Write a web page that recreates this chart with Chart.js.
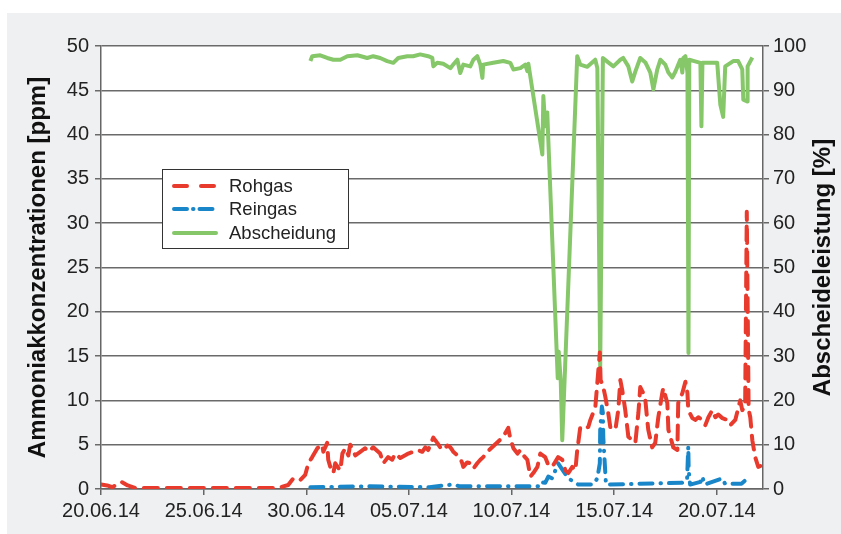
<!DOCTYPE html>
<html>
<head>
<meta charset="utf-8">
<script src="https://cdn.jsdelivr.net/npm/chart.js@4"></script>
<style>
  html, body { margin: 0; padding: 0; background: #fff; }
  canvas { display: block; }
</style>
</head>
<body>
<canvas id="chart" width="841" height="534"></canvas>
<script>
// days after 20.06.14
const tickLabels = ['20.06.14', '25.06.14', '30.06.14', '05.07.14', '10.07.14', '15.07.14', '20.07.14'];

// [day, ppm]
const rohgas = [
  [0, 0.5], [0.3, 0.4], [0.55, 0.2], [1.0, 0.8], [1.3, 0.4], [1.7, 0.1], [8.6, 0.1],
  [9.12, 0.45], [9.37, 1.2], [9.7, 1.0], [9.95, 1.6], [10.1, 2.9], [10.29, 3.6], [10.54, 4.6],
  [10.78, 5.0], [10.83, 4.2], [11.02, 5.2], [11.07, 3.3], [11.17, 2.5], [11.32, 1.8], [11.41, 2.9],
  [11.56, 2.4], [11.66, 2.1], [11.76, 4.0], [11.9, 4.6], [12.05, 3.8], [12.14, 5.0], [12.39, 3.8],
  [12.63, 4.2], [12.87, 4.6], [13.02, 4.2], [13.26, 4.7], [13.6, 4.0], [13.75, 2.9], [13.99, 3.6],
  [14.19, 3.3], [14.33, 4.0], [14.58, 3.5], [14.82, 3.8], [14.97, 4.0], [15.21, 4.2], [15.41, 4.4],
  [15.65, 4.2], [15.8, 4.7], [15.94, 4.4], [16.19, 5.8], [16.38, 5.2], [16.53, 4.7], [16.67, 4.4],
  [16.87, 4.9], [17.02, 4.7], [17.11, 4.4], [17.16, 4.2], [17.36, 3.8], [17.5, 3.5], [17.6, 2.9],
  [17.65, 2.5], [17.84, 3.0], [17.99, 2.9], [18.14, 2.3], [18.33, 2.9], [18.48, 3.3], [18.62, 3.6],
  [18.82, 4.2], [19.6, 5.9], [19.84, 6.9], [19.94, 5.7], [20.09, 4.6], [20.29, 4.0], [20.43, 4.4],
  [20.58, 3.8], [20.77, 3.3], [20.92, 1.4], [21.06, 1.8], [21.26, 2.5], [21.4, 4.0], [21.64, 3.6],
  [21.79, 2.7], [21.98, 2.5], [22.27, 3.6], [22.47, 3.3], [22.62, 2.1], [22.77, 1.8], [22.96, 2.5],
  [23.11, 2.1], [23.2, 4.4], [23.25, 5.2], [23.35, 7.0], [23.59, 6.9], [23.74, 7.0], [23.84, 7.8],
  [24.08, 9.2], [24.3, 15.4], [24.34, 12.3], [24.47, 11.5], [24.57, 10.4], [24.71, 8.6], [24.81, 7.0],
  [25.06, 6.7], [25.2, 8.9], [25.3, 12.3], [25.39, 11.2], [25.54, 8.9], [25.69, 5.9], [25.88, 5.5],
  [26.03, 5.2], [26.18, 8.6], [26.27, 11.5], [26.42, 10.8], [26.52, 10.0], [26.61, 7.8], [26.66, 6.7],
  [26.85, 4.7], [27.0, 5.2], [27.15, 8.1], [27.34, 10.8], [27.39, 11.4], [27.59, 9.7], [27.64, 6.7],
  [27.88, 4.7], [28.08, 4.4], [28.12, 9.7], [28.32, 10.8], [28.47, 12.1], [28.57, 10.8], [28.61, 8.9],
  [28.81, 8.0], [28.95, 7.8], [29.1, 8.1], [29.3, 7.8], [29.44, 7.2], [29.59, 8.1], [29.78, 8.9],
  [29.93, 8.1], [30.07, 8.4], [30.27, 8.0], [30.51, 7.8], [30.66, 7.2], [30.9, 7.8], [31.14, 10.0],
  [31.24, 8.9], [31.38, 9.3], [31.46, 31.3], [31.55, 9.0], [31.63, 8.1], [31.73, 5.5], [31.87, 3.6],
  [32.02, 2.5], [32.12, 2.6]
];

// [day, ppm]
const reingas = [
  [10.2, 0.2], [13.0, 0.3], [16.0, 0.2], [17.11, 0.5], [17.5, 0.3], [21.3, 0.3], [21.4, 0.8],
  [21.64, 0.7], [21.79, 1.4], [21.98, 1.2], [22.27, 2.9], [22.5, 2.1], [22.77, 1.2], [23.25, 0.5],
  [23.98, 0.5], [24.18, 1.2], [24.3, 2.9], [24.32, 6.7], [24.4, 9.3], [24.45, 8.6], [24.47, 5.8],
  [24.6, 0.5], [28.3, 0.7], [28.55, 1.0], [28.61, 4.8], [28.63, 2.1], [28.7, 0.5], [29.2, 0.8],
  [29.3, 1.4], [29.4, 0.5], [30.27, 1.2], [30.4, 0.6], [31.2, 0.6], [31.5, 1.2]
];

// [day, %]
const abscheidung = [
  [10.2, 96.6], [10.29, 97.7], [10.68, 97.9], [11.02, 97.3], [11.32, 96.9], [11.66, 96.9], [12.0, 97.7],
  [12.49, 97.9], [12.97, 97.3], [13.26, 97.7], [13.6, 97.3], [13.94, 96.6], [14.24, 96.2], [14.48, 97.3],
  [14.92, 97.7], [15.21, 97.7], [15.55, 98.1], [15.94, 97.7], [16.14, 97.3], [16.19, 95.4], [16.38, 96.2],
  [16.67, 96.0], [17.02, 95.0], [17.16, 95.8], [17.36, 96.9], [17.5, 93.9], [17.65, 95.8], [17.99, 95.4],
  [18.14, 96.9], [18.33, 97.7], [18.48, 95.8], [18.58, 92.8], [18.62, 95.8], [19.11, 96.2], [19.6, 96.6],
  [19.94, 96.2], [20.09, 94.7], [20.43, 95.0], [20.67, 95.8], [20.77, 94.3], [20.82, 96.0], [21.5, 75.5],
  [21.55, 88.7], [21.64, 81.9], [21.74, 85.0], [21.79, 79.0], [22.25, 25.0], [22.3, 31.0], [22.4, 24.0],
  [22.47, 11.0], [23.2, 97.7], [23.35, 95.8], [23.69, 95.3], [24.08, 96.9], [24.18, 95.0], [24.32, 27.5],
  [24.45, 97.3], [24.71, 96.3], [24.96, 95.4], [25.3, 96.9], [25.44, 97.3], [25.69, 95.4], [25.88, 92.0],
  [26.03, 94.2], [26.27, 97.3], [26.52, 96.3], [26.76, 94.0], [26.91, 90.2], [27.1, 94.7], [27.25, 96.9],
  [27.49, 95.8], [27.64, 94.0], [27.83, 92.9], [27.98, 94.2], [28.22, 96.9], [28.32, 94.0], [28.37, 97.3],
  [28.47, 97.7], [28.57, 94.0], [28.62, 30.7], [28.66, 96.9], [28.9, 96.6], [29.2, 96.2], [29.25, 81.9],
  [29.3, 96.2], [29.68, 96.2], [30.02, 96.2], [30.17, 86.8], [30.31, 84.0], [30.41, 95.4], [30.8, 96.6],
  [31.04, 96.6], [31.24, 94.7], [31.29, 87.9], [31.48, 87.5], [31.5, 95.4], [31.73, 97.4]
];

const RED = 'rgb(232,58,45)';
const BLUE = 'rgb(24,134,200)';
const GREEN = 'rgb(134,199,106)';
const FONT = 'Liberation Sans, Arial, Helvetica, sans-serif';

const toPts = arr => arr.map(p => ({ x: p[0], y: p[1] }));

const panel = {
  id: 'panel',
  beforeDraw(chart) {
    const { ctx, chartArea: a } = chart;
    ctx.save();
    ctx.fillStyle = '#eff0f2';
    ctx.fillRect(7, 13, 834, 521);
    ctx.fillStyle = '#fff';
    ctx.fillRect(a.left, a.top, a.right - a.left, a.bottom - a.top);
    ctx.restore();
  },
  afterDraw(chart) {
    const ctx = chart.ctx;
    ctx.save();
    // axis titles, both reading bottom to top
    ctx.fillStyle = '#111';
    ctx.font = 'bold 24px ' + FONT;
    ctx.textAlign = 'center';
    ctx.textBaseline = 'alphabetic';
    const cy = (chart.chartArea.top + chart.chartArea.bottom) / 2;
    [[45, 'Ammoniakkonzentrationen [ppm]'], [830, 'Abscheideleistung [%]']].forEach(([x, t]) => {
      ctx.save();
      ctx.translate(x, cy);
      ctx.rotate(-Math.PI / 2);
      ctx.fillText(t, 0, 0);
      ctx.restore();
    });

    // legend box
    ctx.fillStyle = '#fff';
    ctx.fillRect(162.5, 169.5, 186, 79);
    ctx.strokeStyle = '#333';
    ctx.lineWidth = 1;
    ctx.strokeRect(162.5, 169.5, 186, 79);
    const rows = [
      { label: 'Rohgas', color: RED, dash: [13, 14], y: 186 },
      { label: 'Reingas', color: BLUE, dash: [13, 6, 0.5, 6], y: 209 },
      { label: 'Abscheidung', color: GREEN, dash: [], y: 233 }
    ];
    rows.forEach(r => {
      ctx.beginPath();
      ctx.setLineDash(r.dash);
      ctx.lineCap = 'round';
      ctx.lineWidth = 4;
      ctx.strokeStyle = r.color;
      ctx.moveTo(174, r.y);
      ctx.lineTo(216, r.y);
      ctx.stroke();
      ctx.setLineDash([]);
      ctx.fillStyle = '#222';
      ctx.font = '18.5px ' + FONT;
      ctx.textAlign = 'left';
      ctx.textBaseline = 'middle';
      ctx.fillText(r.label, 229, r.y + 1);
    });
    ctx.restore();
  }
};

new Chart(document.getElementById('chart'), {
  type: 'line',
  data: {
    datasets: [
      {
        label: 'Rohgas',
        data: toPts(rohgas),
        yAxisID: 'y',
        borderColor: RED,
        borderWidth: 4,
        borderDash: [14, 9],
        borderCapStyle: 'round',
        borderJoinStyle: 'round',
        pointRadius: 0,
        tension: 0
      },
      {
        label: 'Reingas',
        data: toPts(reingas),
        yAxisID: 'y',
        borderColor: BLUE,
        borderWidth: 4,
        borderDash: [13, 8, 0.5, 8],
        borderCapStyle: 'round',
        borderJoinStyle: 'round',
        pointRadius: 0,
        tension: 0
      },
      {
        label: 'Abscheidung',
        data: toPts(abscheidung),
        yAxisID: 'y1',
        borderColor: GREEN,
        borderWidth: 4,
        borderJoinStyle: 'round',
        pointRadius: 0,
        tension: 0
      }
    ]
  },
  options: {
    responsive: false,
    animation: false,
    devicePixelRatio: 1,
    layout: { padding: { top: 46, left: 0, right: 0, bottom: 0 } },
    plugins: {
      legend: { display: false },
      tooltip: { enabled: false }
    },
    scales: {
      x: {
        type: 'linear',
        min: 0,
        max: 32.25,
        afterFit: s => { s.height = 45; },
        grid: { drawOnChartArea: false, color: '#666', tickLength: 6, lineWidth: 1.5 },
        border: { color: '#666', width: 1.5 },
        ticks: {
          stepSize: 5,
          includeBounds: false,
          maxRotation: 0,
          autoSkip: false,
          padding: 4,
          color: '#222',
          font: { family: FONT, size: 20 },
          callback: v => tickLabels[v / 5] || ''
        }
      },
      y: {
        position: 'left',
        min: 0,
        max: 50,
        afterFit: s => { s.width = 101; },
        grid: { color: '#6a6a6a', lineWidth: 1.5, tickLength: 6 },
        border: { color: '#666', width: 1.5 },
        ticks: {
          stepSize: 5,
          padding: 6,
          color: '#222',
          font: { family: FONT, size: 20 }
        }
      },
      y1: {
        position: 'right',
        min: 0,
        max: 100,
        afterFit: s => { s.width = 78; },
        grid: { drawOnChartArea: false, color: '#666', lineWidth: 1.5, tickLength: 6 },
        border: { color: '#666', width: 1.5 },
        ticks: {
          stepSize: 10,
          padding: 4,
          color: '#222',
          font: { family: FONT, size: 20 }
        }
      }
    }
  },
  plugins: [panel]
});
</script>
</body>
</html>
